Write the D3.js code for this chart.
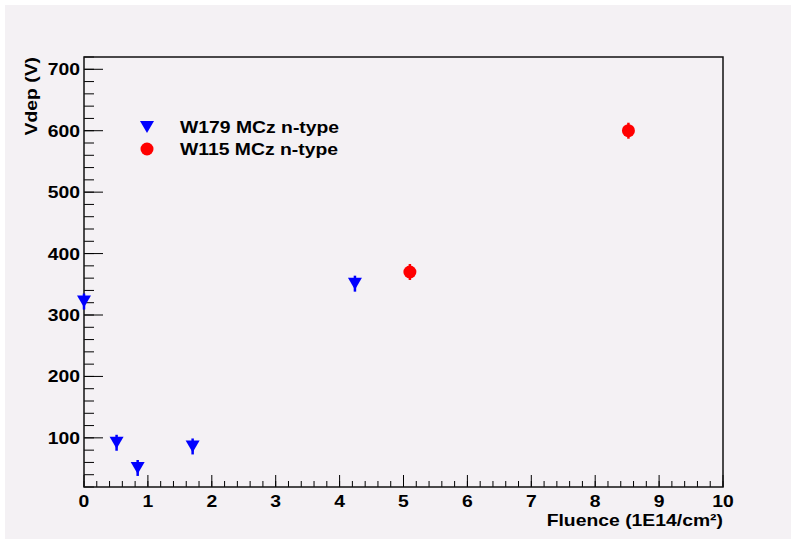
<!DOCTYPE html>
<html>
<head>
<meta charset="utf-8">
<script src="https://cdn.jsdelivr.net/npm/d3@7"></script>
<style>
  html, body { margin: 0; padding: 0; background: #ffffff; }
  svg { display: block; }
  text { font-family: "Liberation Sans", Arial, sans-serif; font-weight: bold; fill: #000; }
</style>
</head>
<body>
<svg id="chart" width="791" height="539"></svg>
<script>
// Depletion voltage vs. fluence for two MCz n-type wafers
const seriesNames = ["W179 MCz n-type", "W115 MCz n-type"];
const w179Fluence = [0.0, 0.51, 0.84, 1.70, 4.24];
const w179Vdep    = [322, 92, 51, 86, 351];
const w179Err     = [13, 13, 13, 13, 13];
const w115Fluence = [5.10, 8.52];
const w115Vdep    = [370, 600];
const w115Err     = [13, 13];
const xTickValues = [0, 1, 2, 3, 4, 5, 6, 7, 8, 9, 10];
const yTickValues = [100, 200, 300, 400, 500, 600, 700];
const xDomain = [0, 10];
const yDomain = [20, 720];

const svg = d3.select("#chart");
const W = 791, H = 539;
const margin = { left: 84, right: W - 723, top: 57, bottom: H - 487 };
const STRETCH = 1.21;   // wide bold face

// pad
svg.append("rect").attr("x", 5).attr("y", 5).attr("width", W - 5).attr("height", H - 5)
  .attr("fill", "#f4f1f4");

const x = d3.scaleLinear().domain(xDomain).range([margin.left, W - margin.right]);
const y = d3.scaleLinear().domain(yDomain).range([H - margin.bottom, margin.top]);

// text placed at (px,py), optionally rotated, widened along its baseline
function label(parent, px, py, str, anchor, rot) {
  return parent.append("text")
    .attr("transform", `translate(${px},${py})${rot ? ` rotate(${rot})` : ""} scale(${STRETCH},1)`)
    .attr("text-anchor", anchor).attr("font-size", 16)
    .text(str);
}

const xMinor = d3.range(0, 10.001, 0.2).map(v => +v.toFixed(2));
const yMinor = d3.range(20, 720.001, 20);

const g = svg.append("g");

g.selectAll("line.xminor").data(xMinor).enter().append("line")
  .attr("x1", d => x(d)).attr("x2", d => x(d))
  .attr("y1", y(yDomain[0])).attr("y2", y(yDomain[0]) - 6)
  .attr("stroke", "#000").attr("stroke-width", 1);
g.selectAll("line.xmajor").data(xTickValues).enter().append("line")
  .attr("x1", d => x(d)).attr("x2", d => x(d))
  .attr("y1", y(yDomain[0])).attr("y2", y(yDomain[0]) - 12)
  .attr("stroke", "#000").attr("stroke-width", 1);

g.selectAll("line.yminor").data(yMinor).enter().append("line")
  .attr("x1", x(0)).attr("x2", x(0) + 10)
  .attr("y1", d => y(d)).attr("y2", d => y(d))
  .attr("stroke", "#000").attr("stroke-width", 1);
g.selectAll("line.ymajor").data(yTickValues).enter().append("line")
  .attr("x1", x(0)).attr("x2", x(0) + 19)
  .attr("y1", d => y(d)).attr("y2", d => y(d))
  .attr("stroke", "#000").attr("stroke-width", 1);

// frame
g.append("rect")
  .attr("x", x(xDomain[0])).attr("y", y(yDomain[1]))
  .attr("width", x(xDomain[1]) - x(xDomain[0]))
  .attr("height", y(yDomain[0]) - y(yDomain[1]))
  .attr("fill", "none").attr("stroke", "#111").attr("stroke-width", 1.5);

// tick labels
xTickValues.forEach(d => label(g, x(d), 507, String(d), "middle"));
yTickValues.forEach(d => label(g, 80, y(d) + 6, String(d), "end"));

// axis titles
label(g, x(10), 526, "Fluence (1E14/cm²)", "end");
label(g, 37, y(yDomain[1]), "Vdep (V)", "end", -90);

// downward triangle marker, centred on its bounding box
const TRI_W = 14, TRI_H = 12;
const triPath = `M${-TRI_W / 2},${-TRI_H / 2}L${TRI_W / 2},${-TRI_H / 2}L0,${TRI_H / 2}Z`;

const blue = "#0000ff", red = "#ff0000";
const w179 = w179Fluence.map((f, i) => ({ f, v: w179Vdep[i], e: w179Err[i] }));
const w115 = w115Fluence.map((f, i) => ({ f, v: w115Vdep[i], e: w115Err[i] }));

// error bars
g.selectAll("line.e179").data(w179).enter().append("line")
  .attr("x1", d => x(d.f)).attr("x2", d => x(d.f))
  .attr("y1", d => y(d.v - d.e)).attr("y2", d => y(d.v + d.e))
  .attr("stroke", blue).attr("stroke-width", 2.5);
g.selectAll("path.m179").data(w179).enter().append("path")
  .attr("d", triPath).attr("transform", d => `translate(${x(d.f)},${y(d.v)})`)
  .attr("fill", blue);

g.selectAll("line.e115").data(w115).enter().append("line")
  .attr("x1", d => x(d.f)).attr("x2", d => x(d.f))
  .attr("y1", d => y(d.v - d.e)).attr("y2", d => y(d.v + d.e))
  .attr("stroke", red).attr("stroke-width", 2.5);
g.selectAll("circle.m115").data(w115).enter().append("circle")
  .attr("cx", d => x(d.f)).attr("cy", d => y(d.v)).attr("r", 6.5)
  .attr("fill", red);

// legend
const legend = g.append("g");
legend.append("path").attr("d", triPath).attr("transform", "translate(147,127)").attr("fill", blue);
legend.append("circle").attr("cx", 147).attr("cy", 149).attr("r", 6.5).attr("fill", red);
label(legend, 180, 133, seriesNames[0], "start");
label(legend, 180, 155, seriesNames[1], "start");
</script>
</body>
</html>
